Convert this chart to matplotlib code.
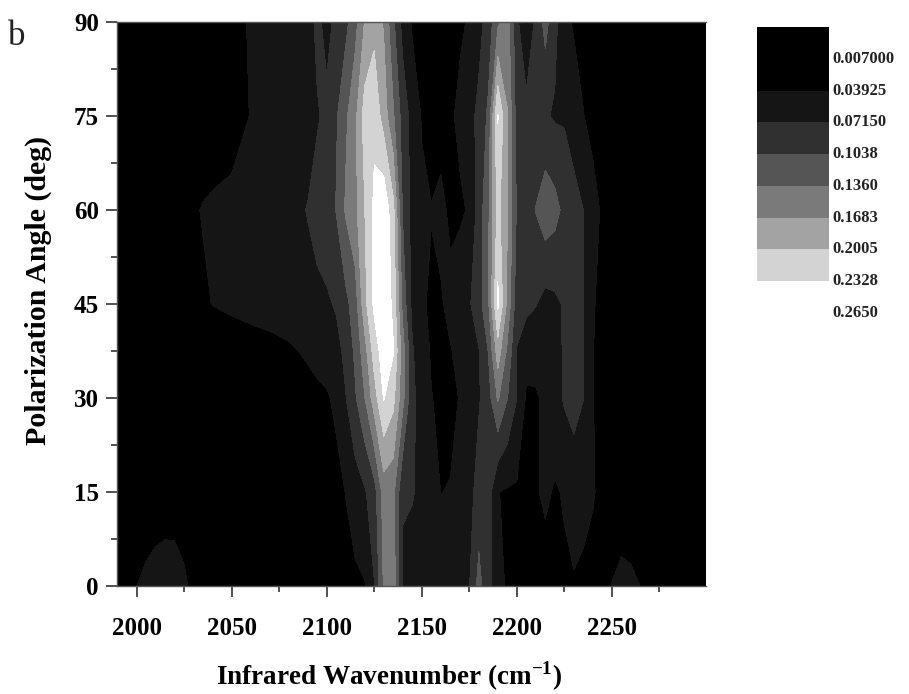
import matplotlib
matplotlib.use("Agg")
import matplotlib.pyplot as plt
from matplotlib.ticker import MultipleLocator
import numpy as np

plt.rcParams['font.family'] = ['Liberation Serif', 'DejaVu Serif']
plt.rcParams['mathtext.fontset'] = 'custom'
plt.rcParams['mathtext.rm'] = 'Liberation Serif'
plt.rcParams['mathtext.bf'] = 'Liberation Serif:bold'

wavenumber = [1990,2000,2005,2010,2015,2020,2025,2030,2035,2040,2050,2060,2070,2080,2085,
              2090,2095,2100,2105,2110,2115,2120,2125,2130,2135,2140,2145,2150,2155,2160,2165,
              2170,2175,2180,2185,2190,2195,2200,2205,2210,2215,2220,2225,2230,2235,2240,2245,
              2250,2255,2260,2265,2270,2285,2300]
angle = [0, 15, 30, 37.5, 45, 60, 75, 90]

row_0 = [.02,.039,.046,.053,.058,.057,.045,.03,.025,.02,.02,.02,.02,.02,.02,
         .025,.026,.027,.028,.03,.033,.037,.07,.14,.155,.065,.05,.045,.06,.05,.045,
         .05,.07,.115,.08,.05,.035,.03,.028,.026,.025,.028,.034,.037,.032,.028,.03,
         .04,.048,.045,.039,.03,.02,.02]
row_15 = [.02,.02,.02,.02,.02,.02,.02,.02,.02,.02,.02,.02,.02,.02,.02,
          .02,.02,.022,.03,.04,.055,.068,.09,.15,.145,.075,.075,.06,.05,.039,.04,
          .045,.06,.085,.085,.04,.036,.035,.035,.036,.045,.036,.042,.05,.05,.042,.03,
          .02,.02,.02,.02,.02,.02,.02]
row_30 = [.02,.02,.02,.02,.02,.02,.02,.02,.02,.02,.02,.02,.02,.022,.028,
          .03,.033,.036,.045,.07,.10,.135,.185,.235,.21,.145,.08,.055,.04,.035,.035,
          .04,.055,.068,.09,.14,.105,.072,.035,.036,.045,.06,.075,.085,.072,.04,.03,
          .025,.02,.02,.02,.02,.02,.02]
row_37 = [.02,.02,.02,.02,.02,.02,.02,.02,.02,.02,.022,.025,.03,.035,.039,
          .043,.048,.052,.06,.08,.11,.155,.215,.25,.235,.15,.075,.05,.037,.035,.038,
          .045,.055,.07,.105,.185,.13,.07,.05,.05,.05,.06,.075,.085,.072,.04,.03,
          .025,.02,.02,.02,.02,.02,.02]
row_45 = [.02,.02,.02,.02,.02,.02,.025,.03,.035,.04,.045,.05,.052,.055,.058,
          .06,.062,.066,.075,.095,.12,.19,.24,.26,.225,.125,.062,.042,.036,.037,.045,
          .055,.068,.09,.13,.24,.16,.085,.08,.073,.06,.065,.075,.085,.0715,.042,.03,
          .025,.02,.02,.02,.02,.02,.02]
row_60 = [.02,.02,.02,.02,.02,.025,.03,.036,.041,.043,.045,.05,.055,.06,.066,
          .073,.085,.095,.105,.14,.16,.20,.24,.26,.21,.10,.06,.045,.04,.045,.035,
          .035,.042,.085,.13,.21,.17,.10,.09,.105,.125,.115,.095,.08,.0715,.05,.035,
          .025,.02,.02,.02,.02,.02,.02]
row_75 = [.02,.02,.02,.02,.02,.02,.02,.02,.02,.025,.03,.04,.045,.05,.052,
          .055,.068,.08,.10,.13,.16,.215,.225,.185,.14,.09,.06,.037,.03,.03,.035,
          .045,.06,.08,.11,.235,.17,.09,.085,.08,.075,.068,.068,.06,.04,.03,.03,
          .025,.02,.02,.02,.02,.02,.02]
row_90 = [.02,.02,.02,.02,.02,.02,.02,.02,.02,.025,.033,.041,.045,.05,.052,
          .055,.08,.06,.08,.095,.125,.17,.19,.165,.11,.06,.035,.03,.03,.03,.03,
          .035,.042,.06,.085,.13,.15,.08,.035,.08,.115,.08,.05,.035,.03,.03,.03,
          .025,.02,.02,.02,.02,.02,.02]

levels = [0.007, 0.03925, 0.07150, 0.1038, 0.1360, 0.1683, 0.2005, 0.2328, 0.2650]
level_labels = ['0.007000', '0.03925', '0.07150', '0.1038', '0.1360', '0.1683', '0.2005', '0.2328', '0.2650']
grays = ['#000000', '#151515', '#303030', '#555555', '#7a7a7a', '#a3a3a3', '#d3d3d3', '#ffffff']

W, H = 909, 694
fig = plt.figure(figsize=(W / 100, H / 100), dpi=100)


def px_axes(l, t, r, b):
    return fig.add_axes([l / W, 1 - b / H, (r - l) / W, (b - t) / H])


ax = px_axes(117, 22, 706, 586)
Z = np.array([row_0, row_15, row_30, row_37, row_45, row_60, row_75, row_90])
ax.contourf(wavenumber, angle, Z, levels=levels, colors=grays, extend='neither')
ax.set_facecolor('black')
ax.set_xlim(1989.7, 2299.5)
ax.set_ylim(0, 90)
ax.xaxis.set_major_locator(MultipleLocator(50))
ax.xaxis.set_minor_locator(MultipleLocator(25))
ax.yaxis.set_major_locator(MultipleLocator(15))
ax.yaxis.set_minor_locator(MultipleLocator(7.5))
ax.tick_params(axis='x', which='major', length=8, width=1.2, color='#333333', pad=14.5)
ax.tick_params(axis='x', which='minor', length=4.5, width=1.2, color='#333333')
ax.tick_params(axis='y', which='major', length=8, width=1.2, color='#333333', pad=5)
ax.tick_params(axis='y', which='minor', length=4, width=1.2, color='#333333')
for lab in ax.get_xticklabels() + ax.get_yticklabels():
    lab.set_fontsize(18)
    lab.set_fontweight('bold')
for s in ax.spines.values():
    s.set_color('#555555')
    s.set_linewidth(1.0)
ax.spines['right'].set_visible(False)

fig.text(389 / W, 1 - 676 / H, 'Infrared Wavenumber (cm$^{\\mathbf{-1}}$)', fontsize=19.5,
         fontweight='bold', ha='center', va='center')
fig.text(38 / W, 1 - 290 / H, 'Polarization Angle (deg)', fontsize=21.5, fontweight='bold',
         rotation=90, ha='center', va='center')
fig.text(8 / W, 1 - 45 / H, 'b', fontsize=25, color='#222222', ha='left', va='baseline')

# key: nine equal cells, top one black below the lowest level
key = px_axes(757, 27, 829, 313)
edges = np.arange(len(levels) + 1)
key_colors = ['#000000'] + grays
for i, c in enumerate(key_colors):
    key.axhspan(edges[i], edges[i] + 1, color=c, lw=0)
key.set_xlim(0, 1)
key.set_ylim(len(levels), 0)
key.axis('off')
for i, lab in enumerate(level_labels):
    key.text(1.04, i + 1, lab, transform=key.get_yaxis_transform(), fontsize=12, fontweight='bold',
             color='#222222', va='center', ha='left', clip_on=False)

fig.savefig('out.png', dpi=100)
